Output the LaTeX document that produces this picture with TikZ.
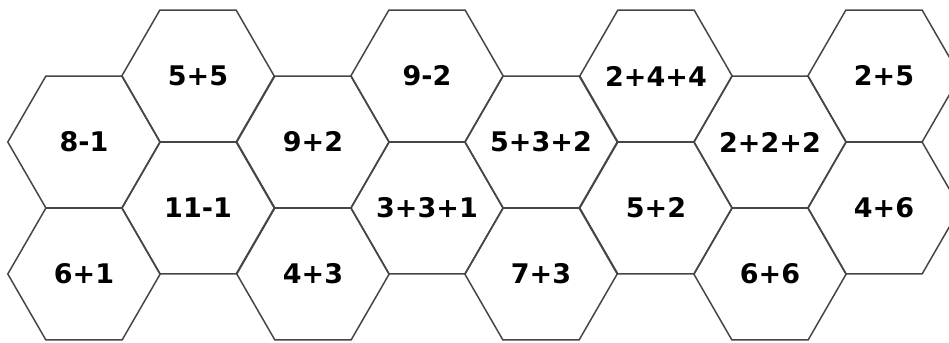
\documentclass[tikz,border=0pt]{standalone}
\usepackage{fontspec}
\setmainfont{DejaVu Sans}
\usetikzlibrary{shapes.geometric}
\definecolor{hexline}{RGB}{70,70,70}
\newcommand{\hexsum}[1]{\makebox[0pt]{#1}}
\tikzset{
 hexcell/.style={
 regular polygon,
 regular polygon sides=6,
 minimum size=76.2pt,
 inner sep=0pt,
 draw=hexline,
 line width=0.75pt,
 font=\fontsize{13.5}{16}\selectfont\bfseries
 }
}
\begin{document}
\begin{tikzpicture}[x=0.5pt,y=-0.5pt]
 \useasboundingbox (0,0) rectangle (949,343);
 \clip (0,0) rectangle (949,343);

 \node[hexcell] (ca) at (84,142) {\hexsum{8-1}};
 \node[hexcell] (cb) at (84,274) {\hexsum{6+1}};
 \node[hexcell] (cc) at (198,76) {\hexsum{5+5}};
 \node[hexcell] (cd) at (198,208) {\hexsum{11-1}};
 \node[hexcell] (ce) at (313,142) {\hexsum{9+2}};
 \node[hexcell] (cf) at (313,274) {\hexsum{4+3}};
 \node[hexcell] (cg) at (427,76) {\hexsum{9-2}};
 \node[hexcell] (ch) at (427,208) {\hexsum{3+3+1}};
 \node[hexcell] (ci) at (541,142) {\hexsum{5+3+2}};
 \node[hexcell] (cj) at (541,274) {\hexsum{7+3}};
 \node[hexcell] (ck) at (656,76) {\hexsum{2+4+4}};
 \node[hexcell] (cl) at (656,208) {\hexsum{5+2}};
 \node[hexcell] (cm) at (770,142) {\hexsum{2+2+2}};
 \node[hexcell] (cn) at (770,274) {\hexsum{6+6}};
 \node[hexcell] (co) at (884,76) {\hexsum{2+5}};
 \node[hexcell] (cp) at (884,208) {\hexsum{4+6}};
\end{tikzpicture}
\end{document}
